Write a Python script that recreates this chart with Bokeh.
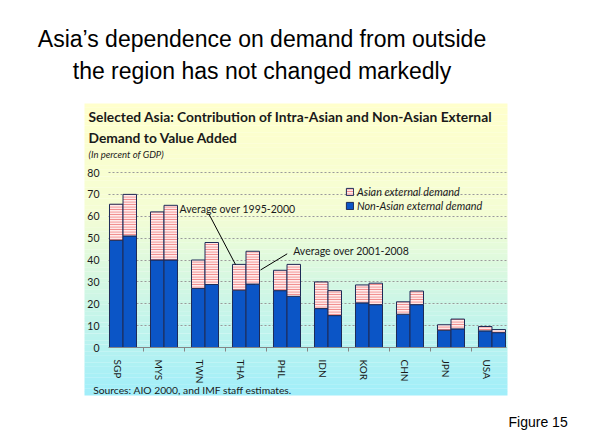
import numpy as np
from bokeh.plotting import figure
from bokeh.models import (Range1d, LinearAxis, FixedTicker, Grid, Label,
                          Legend, LegendItem, ColumnDataSource)
from bokeh.embed import file_html
from bokeh.resources import INLINE

# ---------------- data ----------------
countries = ["SGP", "MYS", "TWN", "THA", "PHL", "IDN", "KOR", "CHN", "JPN", "USA"]
non_asian_1995_2000 = [49.0, 40.0, 27.0, 26.2, 26.0, 17.8, 20.4, 15.2, 7.9, 7.6]
asian_1995_2000 = [16.5, 22.0, 13.0, 11.8, 9.3, 12.2, 8.2, 5.7, 2.5, 2.0]
non_asian_2001_2008 = [51.0, 40.0, 28.8, 29.0, 23.4, 14.6, 19.6, 19.6, 8.5, 6.8]
asian_2001_2008 = [19.0, 25.0, 19.2, 15.0, 14.6, 11.4, 9.8, 6.2, 4.5, 1.4]
y_ticks = [0, 10, 20, 30, 40, 50, 60, 70, 80]
series_labels = ["Asian external demand", "Non-Asian external demand"]

# ---------------- styles / layout ----------------
BLUE = "#0B55C6"
EDGE = "#1E2B57"
PINK = "#F08686"
FONT = "Lato"
TXT = "#1a1a1a"

X0, X1 = -2.8537, 11.5366          # whole canvas
Y0, Y1 = -43.886, 158.63
PX0, PX1 = -0.805, 9.512           # chart panel
PY0, PY1 = -21.94, 111.54
PL, PR = -0.2195, 9.476            # plot-area bounds
W = 0.329
offsets = [-0.031, 0.299]

p = figure(width=590, height=443, x_range=Range1d(X0, X1), y_range=Range1d(Y0, Y1),
           x_axis_type=None, y_axis_type=None, toolbar_location=None,
           output_backend="svg", min_border=0, min_border_left=0, min_border_right=0,
           min_border_top=0, min_border_bottom=0, title=None)
p.outline_line_color = None
p.background_fill_color = "white"
p.border_fill_color = "white"

# gradient panel background
N = 80
edges = np.linspace(PY1, PY0, N + 1)
stops = [(0.0, (255, 255, 204)), (0.38, (244, 253, 212)), (1.0, (160, 238, 250))]
def grad(t):
    for (t0, c0), (t1, c1) in zip(stops[:-1], stops[1:]):
        if t <= t1:
            f = (t - t0) / (t1 - t0)
            return "#%02x%02x%02x" % tuple(int(round(a + (b - a) * f)) for a, b in zip(c0, c1))
    return "#%02x%02x%02x" % stops[-1][1]
cols = [grad((k + 0.5) / N) for k in range(N)]
tops = list(edges[:-1])
bots = [max(PY0, e - 0.05) for e in edges[1:]]
bg = p.quad(left=PX0, right=PX1, top=tops, bottom=bots, fill_color=cols, line_color=None)
bg.level = "image"

# grid
grid = Grid(dimension=1, ticker=FixedTicker(ticks=y_ticks[1:]),
            grid_line_color="#9A9A9A", grid_line_dash="2 2", grid_line_width=1)
grid.cross_bounds = (PL, PR)
p.add_layout(grid)

# bars
renderers = []
for k, (non, asi) in enumerate([(non_asian_1995_2000, asian_1995_2000),
                                (non_asian_2001_2008, asian_2001_2008)]):
    xs = [i + offsets[k] for i in range(len(countries))]
    src = ColumnDataSource(dict(x=xs, non=non, total=[a + b for a, b in zip(non, asi)]))
    r_non = p.vbar(x="x", width=W, bottom=0, top="non", source=src,
                   fill_color=BLUE, line_color=EDGE, line_width=1)
    r_asia = p.vbar(x="x", width=W, bottom="non", top="total", source=src,
                    fill_color="#FFEDED", hatch_pattern="horizontal_line",
                    hatch_color=PINK, hatch_scale=2.5, hatch_weight=1.3,
                    line_color=EDGE, line_width=1)
    renderers.append((r_asia, r_non))

# axes (fixed inside the frame)
xaxis = LinearAxis(fixed_location=0,
                   ticker=FixedTicker(ticks=list(range(len(countries))),
                                      minor_ticks=[i + 0.634 for i in range(len(countries) - 1)]),
                   major_label_overrides={i: c for i, c in enumerate(countries)},
                   major_label_orientation="vertical",
                   bounds=(PL, PR))
xaxis.axis_line_color = "#858585"
xaxis.major_tick_line_color = None
xaxis.major_tick_out = 0
xaxis.major_tick_in = 0
xaxis.minor_tick_line_color = "#858585"
xaxis.minor_tick_out = 4
xaxis.minor_tick_in = 0
xaxis.major_label_standoff = 8
xaxis.major_label_text_font = FONT
xaxis.major_label_text_font_size = "10px"
xaxis.major_label_text_color = TXT
p.add_layout(xaxis, "below")

yaxis = LinearAxis(fixed_location=PL, ticker=FixedTicker(ticks=y_ticks), bounds=(0, 80))
yaxis.axis_line_color = None
yaxis.major_tick_line_color = None
yaxis.minor_tick_line_color = None
yaxis.major_tick_out = 0
yaxis.major_tick_in = 0
yaxis.major_label_standoff = 9
yaxis.major_label_text_font = FONT
yaxis.major_label_text_font_size = "10.5px"
yaxis.major_label_text_color = TXT
p.add_layout(yaxis, "left")

# legend
legend = Legend(items=[LegendItem(label=series_labels[0], renderers=[renderers[0][0]]),
                       LegendItem(label=series_labels[1], renderers=[renderers[0][1]])],
                location=(345, 231))
legend.margin = 0
legend.padding = 0
legend.spacing = 1
legend.glyph_width = 9
legend.glyph_height = 9
legend.label_height = 12
legend.label_standoff = 3
legend.border_line_color = None
legend.background_fill_alpha = 0
legend.label_text_font = FONT
legend.label_text_font_style = "italic"
legend.label_text_font_size = "10.8px"
legend.label_text_color = TXT
p.add_layout(legend, "center")

# annotation pointers
p.segment(x0=[2.227, 4.139], y0=[61.12, 42.83], x1=[2.878, 3.488], y1=[37.94, 35.43],
          line_color="black", line_width=1)
for txt, lx, ly in [("Average over 1995-2000", 1.512, 63.4), ("Average over 2001-2008", 4.285, 44.3)]:
    p.add_layout(Label(x=lx, y=ly, text=txt, text_font=FONT, text_font_size="10.5px",
                       text_color=TXT, text_baseline="middle", text_align="left"))

# chart titles
p.add_layout(Label(x=-0.707, y=105.42, text="Selected Asia: Contribution of Intra-Asian and Non-Asian External",
                   text_font=FONT, text_font_style="bold", text_font_size="13.8px",
                   text_color=TXT, text_baseline="alphabetic"))
p.add_layout(Label(x=-0.707, y=95.95, text="Demand to Value Added",
                   text_font=FONT, text_font_style="bold", text_font_size="13.8px",
                   text_color=TXT, text_baseline="alphabetic"))
p.add_layout(Label(x=-0.707, y=88.27, text="(In percent of GDP)",
                   text_font=FONT, text_font_style="italic", text_font_size="9.5px",
                   text_color=TXT, text_baseline="alphabetic"))
p.add_layout(Label(x=-0.593, y=-19.34, text="Sources: AIO 2000, and IMF staff estimates.",
                   text_font=FONT, text_font_size="10.3px", text_color=TXT,
                   text_baseline="middle"))

# slide title and figure number
for txt, ly in [("Asia\u2019s dependence on demand from outside", 141.2),
                ("the region has not changed markedly", 126.2)]:
    p.add_layout(Label(x=3.524, y=ly, text=txt, text_font="Liberation Sans",
                       text_font_size="23px", text_color="black",
                       text_align="center", text_baseline="alphabetic"))
p.add_layout(Label(x=9.537, y=-34.01, text="Figure 15", text_font="Liberation Sans",
                   text_font_size="14px", text_color="black", text_baseline="alphabetic"))

open("out.html", "w").write(file_html(p, INLINE))
